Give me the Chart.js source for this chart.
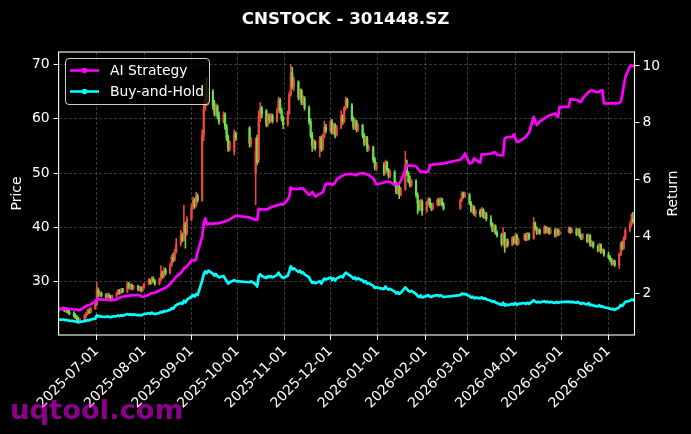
<!DOCTYPE html>
<html>
<head>
<meta charset="utf-8">
<script src="https://cdn.jsdelivr.net/npm/chart.js@4.4.1/dist/chart.umd.min.js"></script>
<style>
html,body{margin:0;padding:0;background:#000;}
#wrap{width:691px;height:434px;}
</style>
</head>
<body>
<div id="wrap"><canvas id="c" width="691" height="434"></canvas></div>
<script>
const chartTitle = "CNSTOCK - 301448.SZ";
const seriesNames = ["AI Strategy", "Buy-and-Hold"];
const watermark = "uqtool.com";

const dates = [
"2025-06-06","2025-06-09","2025-06-10","2025-06-11","2025-06-12","2025-06-13","2025-06-16","2025-06-17","2025-06-18","2025-06-19","2025-06-20","2025-06-23","2025-06-24","2025-06-25","2025-06-26","2025-06-27","2025-06-30",
"2025-07-01","2025-07-02","2025-07-03","2025-07-04","2025-07-07","2025-07-08","2025-07-09","2025-07-10","2025-07-11","2025-07-14","2025-07-15","2025-07-16","2025-07-17","2025-07-18","2025-07-21","2025-07-22","2025-07-23","2025-07-24","2025-07-25","2025-07-28","2025-07-29","2025-07-30","2025-07-31",
"2025-08-01","2025-08-04","2025-08-05","2025-08-06","2025-08-07","2025-08-08","2025-08-11","2025-08-12","2025-08-13","2025-08-14","2025-08-15","2025-08-18","2025-08-19","2025-08-20","2025-08-21","2025-08-22","2025-08-25","2025-08-26","2025-08-27","2025-08-28","2025-08-29",
"2025-09-01","2025-09-02","2025-09-03","2025-09-04","2025-09-05","2025-09-08","2025-09-09","2025-09-10","2025-09-11","2025-09-12","2025-09-15","2025-09-16","2025-09-17","2025-09-18","2025-09-19","2025-09-22","2025-09-23","2025-09-24","2025-09-25","2025-09-26","2025-09-29","2025-09-30",
"2025-10-09","2025-10-10","2025-10-13","2025-10-14","2025-10-15","2025-10-16","2025-10-17","2025-10-20","2025-10-21","2025-10-22","2025-10-23","2025-10-24","2025-10-27","2025-10-28","2025-10-29","2025-10-30","2025-10-31",
"2025-11-03","2025-11-04","2025-11-05","2025-11-06","2025-11-07","2025-11-10","2025-11-11","2025-11-12","2025-11-13","2025-11-14","2025-11-17","2025-11-18","2025-11-19","2025-11-20","2025-11-21","2025-11-24","2025-11-25","2025-11-26","2025-11-27","2025-11-28",
"2025-12-01","2025-12-02","2025-12-03","2025-12-04","2025-12-05","2025-12-08","2025-12-09","2025-12-10","2025-12-11","2025-12-12","2025-12-15","2025-12-16","2025-12-17","2025-12-18","2025-12-19","2025-12-22","2025-12-23","2025-12-24","2025-12-25","2025-12-26","2025-12-29","2025-12-30","2025-12-31",
"2026-01-05","2026-01-06","2026-01-07","2026-01-08","2026-01-09","2026-01-12","2026-01-13","2026-01-14","2026-01-15","2026-01-16","2026-01-19","2026-01-20","2026-01-21","2026-01-22","2026-01-23","2026-01-26","2026-01-27","2026-01-28","2026-01-29","2026-01-30",
"2026-02-02","2026-02-03","2026-02-04","2026-02-05","2026-02-06","2026-02-09","2026-02-10","2026-02-11","2026-02-12","2026-02-13","2026-02-24","2026-02-25","2026-02-26","2026-02-27",
"2026-03-02","2026-03-03","2026-03-04","2026-03-05","2026-03-06","2026-03-09","2026-03-10","2026-03-11","2026-03-12","2026-03-13","2026-03-16","2026-03-17","2026-03-18","2026-03-19","2026-03-20","2026-03-23","2026-03-24","2026-03-25","2026-03-26","2026-03-27","2026-03-30","2026-03-31",
"2026-04-01","2026-04-02","2026-04-03","2026-04-07","2026-04-08","2026-04-09","2026-04-10","2026-04-13","2026-04-14","2026-04-15","2026-04-16","2026-04-17","2026-04-20","2026-04-21","2026-04-22","2026-04-23","2026-04-24","2026-04-27","2026-04-28","2026-04-29","2026-04-30",
"2026-05-06","2026-05-07","2026-05-08","2026-05-11","2026-05-12","2026-05-13","2026-05-14","2026-05-15","2026-05-18","2026-05-19","2026-05-20","2026-05-21","2026-05-22","2026-05-25","2026-05-26","2026-05-27","2026-05-28","2026-05-29",
"2026-06-01","2026-06-02","2026-06-03","2026-06-04","2026-06-05","2026-06-08","2026-06-09","2026-06-10","2026-06-11","2026-06-12","2026-06-15","2026-06-16","2026-06-17","2026-06-18"
];

const open = [
25.0,24.8,25.1,24.7,24.9,24.4,24.1,23.7,23.4,23.0,22.8,23.0,23.7,24.2,24.6,24.4,25.1,
25.8,28.4,27.6,27.9,27.5,27.2,27.6,27.3,26.9,27.4,27.9,28.4,28.0,28.6,28.2,29.6,29.0,29.4,28.8,29.2,28.6,28.9,28.4,
29.0,29.6,30.3,29.8,30.6,30.1,29.6,30.4,31.5,31.0,32.2,31.6,33.0,34.5,34.0,35.5,37.0,38.5,37.8,40.5,39.0,
41.5,43.8,45.0,44.0,45.8,45.0,57.0,62.0,64.5,63.0,65.0,62.5,61.0,62.3,60.5,59.5,60.8,58.5,56.5,54.5,54.0,57.2,
58.3,55.5,50.0,56.5,52.5,60.5,62.0,61.5,59.0,60.5,59.8,60.6,59.6,61.5,63.5,61.5,60.0,
59.0,61.0,64.5,68.5,66.0,66.8,64.0,65.2,63.0,63.8,62.0,59.5,57.0,55.0,55.8,54.6,56.5,54.5,56.8,58.5,
57.8,59.5,57.5,58.8,57.0,58.5,60.5,59.5,62.0,63.5,62.5,60.0,58.5,59.5,58.0,58.8,57.0,55.5,56.5,54.5,54.8,52.5,51.0,
51.5,50.0,52.0,50.5,49.5,50.2,48.0,46.5,47.5,46.0,47.0,51.5,50.0,48.5,47.8,48.5,46.0,44.5,43.5,44.8,
43.0,44.5,45.2,44.0,43.5,44.2,45.0,44.3,45.2,44.2,43.5,45.0,46.3,45.8,
46.0,44.5,43.0,43.8,42.5,43.0,42.3,43.3,42.0,42.5,41.6,40.5,39.5,40.2,39.0,38.5,37.0,38.8,36.5,37.5,36.8,38.0,
37.2,38.5,37.0,37.8,38.6,37.8,38.8,38.0,40.8,39.8,39.0,39.5,39.0,40.0,39.2,39.8,39.0,39.5,38.5,39.5,38.8,
39.2,39.8,39.2,39.6,38.8,39.6,38.5,38.0,38.6,37.5,38.5,36.8,37.2,36.5,35.8,36.8,35.5,35.8,
35.0,34.5,34.0,33.4,33.8,33.0,35.0,37.0,36.2,38.0,39.5,40.5,41.5,41.0
];

const high = [
25.4,25.4,25.3,25.2,25.1,24.8,24.5,24.2,23.8,23.5,23.2,24.0,24.4,24.9,25.0,25.3,26.2,
30.0,28.9,28.3,28.1,27.8,27.9,27.8,27.5,27.6,28.1,28.6,28.6,28.8,28.8,30.0,29.9,29.6,29.6,29.4,29.4,29.2,29.1,29.2,
29.8,30.6,30.5,30.9,30.9,30.4,30.7,33.0,31.9,32.6,32.5,33.4,34.9,35.3,36.0,38.0,39.5,39.0,44.1,41.0,42.0,
44.3,45.6,45.4,46.5,46.2,58.0,63.0,66.5,67.6,65.7,65.4,63.4,62.8,62.6,61.3,61.3,61.1,59.0,57.0,55.9,58.0,57.6,
58.6,56.6,56.5,57.0,61.5,63.0,62.3,61.7,61.0,60.9,61.0,60.9,62.0,64.0,63.8,62.0,60.5,
61.4,64.9,70.0,69.5,67.6,67.0,65.6,65.5,64.3,64.1,62.4,60.0,57.5,56.2,56.0,56.8,56.9,57.2,59.6,59.0,
59.8,59.9,59.1,59.2,58.8,61.5,60.8,62.3,64.0,63.8,62.8,60.4,59.9,59.8,59.1,59.0,57.4,56.8,56.8,55.2,55.0,52.9,52.0,
52.0,52.4,52.2,50.9,50.6,50.5,48.4,47.9,47.8,47.4,54.0,52.4,50.3,49.5,48.9,48.8,46.4,45.0,45.2,45.1,
44.8,45.5,45.4,44.5,44.5,45.3,45.4,45.5,45.4,44.6,45.3,46.6,46.5,46.5,
46.3,44.8,44.1,44.0,43.3,43.4,43.7,43.5,42.9,42.8,42.2,40.9,40.6,40.5,39.4,38.9,40.0,39.1,37.8,37.9,38.3,38.3,
38.9,38.8,38.1,38.9,38.9,39.1,39.0,41.8,41.0,40.1,39.8,39.7,40.4,40.2,40.1,40.0,39.8,39.8,39.8,39.8,39.5,
40.1,40.0,39.9,39.8,39.9,39.8,38.8,38.9,38.8,38.8,38.7,37.6,37.4,36.8,37.1,37.0,36.1,36.0,
35.5,34.8,34.3,34.1,34.0,35.3,37.3,37.5,38.3,39.8,41.0,42.5,42.8,42.3
];

const low = [
24.5,24.6,24.5,24.3,24.2,23.9,23.5,23.2,22.8,22.6,22.5,22.8,23.4,23.9,24.1,24.2,24.9,
25.6,27.2,27.3,27.2,26.9,27.0,27.0,26.6,26.7,27.2,27.6,27.7,27.8,28.0,28.0,28.7,28.6,28.5,28.6,28.3,28.3,28.1,28.2,
28.8,29.4,29.5,29.6,29.9,29.3,29.4,30.2,30.6,30.8,31.2,31.4,32.8,33.6,33.8,35.2,36.6,37.4,37.5,36.2,38.6,
41.2,43.3,43.5,43.8,44.6,44.8,56.0,61.5,62.5,62.6,61.8,60.5,60.6,60.0,59.0,59.2,58.0,56.0,54.0,54.1,53.3,56.0,
54.8,54.9,44.2,51.5,52.0,59.5,60.2,58.5,58.6,59.2,59.4,59.2,59.4,61.2,61.0,59.6,58.2,
58.7,60.8,64.2,65.5,65.2,63.5,63.6,62.6,62.6,61.6,59.0,56.5,54.0,54.5,54.2,53.0,54.0,54.2,56.5,57.4,
57.5,57.2,57.2,56.5,56.8,58.2,59.0,59.3,61.6,62.0,59.6,58.0,58.2,57.6,57.7,56.5,55.0,55.2,54.0,54.1,52.0,50.6,50.4,
49.6,49.8,50.2,49.1,49.2,47.6,46.2,46.2,45.3,45.8,46.8,49.6,48.2,47.4,47.5,45.6,42.5,43.0,43.2,42.2,
42.8,44.1,43.7,43.1,43.2,43.9,44.0,44.1,43.9,43.2,43.3,44.8,45.4,45.5,
44.2,42.8,42.6,42.2,42.0,41.9,42.1,41.7,41.6,41.2,40.2,39.2,39.2,38.7,38.2,36.6,36.8,35.4,36.2,36.4,36.6,36.9,
37.0,36.7,36.8,37.6,37.5,37.6,37.7,37.8,39.5,38.7,38.8,38.7,38.8,38.9,39.0,38.7,38.8,38.2,38.3,38.5,38.6,
39.0,38.9,39.0,38.5,38.6,38.2,37.7,37.8,37.2,37.3,36.5,36.5,36.2,35.5,35.6,35.2,35.3,34.7,
34.2,33.7,33.0,33.2,32.8,32.4,34.8,35.8,36.0,37.7,39.2,40.2,40.8,40.8
];

const close = [
24.8,25.1,24.7,24.9,24.4,24.1,23.7,23.4,23.0,22.8,23.0,23.7,24.2,24.6,24.4,25.1,25.8,
28.6,27.6,27.9,27.5,27.2,27.6,27.3,26.9,27.4,27.9,28.4,28.0,28.6,28.2,29.6,29.0,29.4,28.8,29.2,28.6,28.9,28.4,29.0,
29.6,30.3,29.8,30.6,30.1,29.6,30.4,31.5,31.0,32.2,31.6,33.0,34.5,34.0,35.5,37.0,38.5,37.8,40.5,39.0,41.5,
43.8,45.0,44.0,45.8,45.0,57.0,62.0,64.5,63.0,65.0,62.5,61.0,62.3,60.5,59.5,60.8,58.5,56.5,54.5,55.5,57.2,56.5,
55.5,56.2,54.0,52.0,60.5,62.0,60.8,59.0,60.5,59.8,60.6,59.6,61.5,63.5,61.5,60.0,59.0,
61.0,64.5,68.5,66.0,67.0,64.0,65.2,63.0,63.8,62.0,59.5,57.0,55.0,55.8,54.6,56.5,54.5,56.8,58.5,57.8,
59.5,57.5,58.8,57.0,58.5,60.5,59.5,62.0,63.5,62.5,60.0,58.5,59.5,58.0,58.8,57.0,55.5,56.5,54.5,54.8,52.5,51.0,51.5,
50.0,52.0,50.5,49.5,50.2,48.0,46.5,47.5,46.0,47.0,51.5,50.0,48.5,47.8,48.5,46.0,44.5,43.5,44.8,43.0,
44.5,45.2,44.0,43.5,44.2,45.0,44.3,45.2,44.2,43.5,45.0,46.3,45.8,46.0,
44.5,43.0,43.8,42.5,43.0,42.3,43.3,42.0,42.5,41.6,40.5,39.5,40.2,39.0,38.5,37.0,38.8,36.5,37.5,36.8,38.0,37.2,
38.5,37.0,37.8,38.6,37.8,38.8,38.0,40.8,39.8,39.0,39.5,39.0,40.0,39.2,39.8,39.0,39.5,38.5,39.5,38.8,39.2,
39.8,39.2,39.6,38.8,39.6,38.5,38.0,38.6,37.5,38.5,36.8,37.2,36.5,35.8,36.8,35.5,35.8,35.0,
34.5,34.0,33.4,33.8,33.0,35.0,37.0,36.2,38.0,39.5,40.5,41.5,41.0,42.0
];

const aiReturn = [
1.45,1.46,1.45,1.47,1.46,1.45,1.44,1.43,1.42,1.41,1.41,1.52,1.55,1.58,1.58,1.61,1.72,
1.80,1.79,1.80,1.79,1.77,1.78,1.77,1.75,1.76,1.79,1.83,1.84,1.88,1.88,1.91,1.91,1.93,1.93,1.94,1.94,1.93,1.90,1.88,
1.89,1.95,1.99,2.00,2.01,2.02,2.10,2.13,2.15,2.17,2.19,2.33,2.40,2.45,2.52,2.58,2.72,2.78,2.88,2.90,2.95,
3.15,3.17,3.15,3.20,3.45,3.99,4.45,4.64,4.42,4.45,4.44,4.46,4.46,4.46,4.47,4.52,4.53,4.55,4.57,4.60,4.70,4.73,
4.67,4.65,4.58,4.58,4.98,4.95,4.95,4.95,4.96,5.00,5.03,5.05,5.10,5.11,5.12,5.15,5.12,
5.30,5.40,5.73,5.66,5.68,5.67,5.69,5.68,5.69,5.63,5.46,5.50,5.57,5.50,5.40,5.50,5.52,5.56,5.72,5.85,
5.86,5.81,5.85,5.90,6.00,6.12,6.14,6.17,6.19,6.19,6.20,6.18,6.16,6.16,6.20,6.23,6.22,6.20,6.18,6.16,6.04,5.95,5.83,
5.90,5.92,5.92,5.92,5.92,5.82,5.84,5.86,5.87,5.95,6.35,6.51,6.50,6.49,6.49,6.47,6.40,6.33,6.28,6.27,
6.27,6.28,6.51,6.52,6.53,6.55,6.55,6.56,6.56,6.57,6.70,6.76,6.80,6.92,
6.57,6.58,6.62,6.75,6.70,6.60,6.89,6.89,6.89,6.89,6.92,6.94,6.96,6.95,6.88,6.85,6.86,7.45,7.48,7.50,7.50,7.60,
7.45,7.33,7.33,7.47,7.52,7.60,7.65,8.21,8.05,7.92,7.98,8.05,8.15,8.18,8.22,8.25,8.27,8.33,8.25,8.21,8.56,
8.56,8.83,8.83,8.80,8.79,8.74,8.73,8.85,9.03,9.08,9.12,9.15,9.12,9.07,9.10,9.13,9.15,8.68,
8.68,8.68,8.68,8.68,8.68,8.69,8.75,8.97,9.30,9.61,9.98,10.02,10.00,10.01
];

const bhReturn = [
1.07,1.08,1.06,1.07,1.05,1.04,1.02,1.01,0.99,0.98,0.99,1.02,1.04,1.06,1.05,1.08,1.11,
1.23,1.19,1.20,1.18,1.17,1.19,1.17,1.16,1.18,1.20,1.22,1.20,1.23,1.21,1.27,1.25,1.26,1.24,1.26,1.23,1.24,1.22,1.25,
1.27,1.30,1.28,1.32,1.29,1.27,1.31,1.35,1.33,1.38,1.36,1.42,1.48,1.46,1.53,1.59,1.66,1.63,1.74,1.68,1.78,
1.88,1.94,1.89,1.97,1.94,2.45,2.67,2.77,2.71,2.80,2.69,2.62,2.68,2.60,2.56,2.61,2.52,2.43,2.34,2.39,2.46,2.43,
2.39,2.42,2.32,2.24,2.60,2.67,2.61,2.54,2.60,2.57,2.61,2.56,2.64,2.73,2.64,2.58,2.54,
2.62,2.77,2.95,2.84,2.88,2.75,2.80,2.71,2.74,2.67,2.56,2.45,2.37,2.40,2.35,2.43,2.34,2.44,2.52,2.49,
2.56,2.47,2.53,2.45,2.52,2.60,2.56,2.67,2.73,2.69,2.58,2.52,2.56,2.49,2.53,2.45,2.39,2.43,2.34,2.36,2.26,2.19,2.21,
2.15,2.24,2.17,2.13,2.16,2.06,2.00,2.04,1.98,2.02,2.21,2.15,2.09,2.06,2.09,1.98,1.91,1.87,1.93,1.85,
1.91,1.94,1.89,1.87,1.90,1.94,1.90,1.94,1.90,1.87,1.94,1.99,1.97,1.98,
1.91,1.85,1.88,1.83,1.85,1.82,1.86,1.81,1.83,1.79,1.74,1.70,1.73,1.68,1.66,1.59,1.67,1.57,1.61,1.58,1.63,1.60,
1.66,1.59,1.63,1.66,1.63,1.67,1.63,1.75,1.71,1.68,1.70,1.68,1.72,1.69,1.71,1.68,1.70,1.66,1.70,1.67,1.69,
1.71,1.69,1.70,1.67,1.70,1.66,1.63,1.66,1.61,1.66,1.58,1.60,1.57,1.54,1.58,1.53,1.54,1.51,
1.48,1.46,1.44,1.45,1.42,1.51,1.59,1.56,1.63,1.70,1.74,1.78,1.76,1.81
];

const priceTicks = [30, 40, 50, 60, 70];
const returnTicks = [2, 4, 6, 8, 10];
const monthTicks = ["2025-07-01","2025-08-01","2025-09-01","2025-10-01","2025-11-01","2025-12-01","2026-01-01","2026-02-01","2026-03-01","2026-04-01","2026-05-01","2026-06-01"];

// ---------- rendering ----------
const FONT = 'DejaVu Sans';
const DAY = 86400000;
const dayNum = s => Math.round(Date.parse(s + 'T00:00:00Z') / DAY);
const xs = dates.map(dayNum);
const UP = '#ee4b3c', DOWN = '#6fe04a';
const candleColors = close.map((c, i) => (c >= open[i] ? UP : DOWN));
const tickLabelByDay = {};
monthTicks.forEach(m => { tickLabelByDay[dayNum(m)] = m; });

const lineColors = ['#ff00ff', '#00ffff'];
Chart.defaults.font.family = FONT;

const bgPlugin = {
  id: 'bg',
  beforeDraw(chart) {
    const ctx = chart.ctx;
    ctx.save();
    ctx.fillStyle = '#000';
    ctx.fillRect(0, 0, chart.width, chart.height);
    ctx.restore();
  }
};

const decorPlugin = {
  id: 'decor',
  afterDraw(chart) {
    const ctx = chart.ctx, a = chart.chartArea;
    ctx.save();
    // frame
    ctx.strokeStyle = '#ffffff';
    ctx.lineWidth = 1.1;
    ctx.strokeRect(a.left, a.top, a.right - a.left, a.bottom - a.top);
    // title
    ctx.fillStyle = '#ffffff';
    ctx.font = 'bold 16.7px "' + FONT + '"';
    ctx.textAlign = 'center';
    ctx.textBaseline = 'alphabetic';
    ctx.fillText(chartTitle, chart.width / 2, 24);
    // right axis title
    ctx.save();
    ctx.translate(673, (a.top + a.bottom) / 2);
    ctx.rotate(-Math.PI / 2);
    ctx.font = '13.9px "' + FONT + '"';
    ctx.textAlign = 'center';
    ctx.textBaseline = 'middle';
    ctx.fillText('Return', 0, 0);
    ctx.restore();
    // legend
    const bx = 65.5, by = 58.5, bw = 144, bh = 46, r = 3.5;
    ctx.beginPath();
    ctx.moveTo(bx + r, by);
    ctx.lineTo(bx + bw - r, by);
    ctx.quadraticCurveTo(bx + bw, by, bx + bw, by + r);
    ctx.lineTo(bx + bw, by + bh - r);
    ctx.quadraticCurveTo(bx + bw, by + bh, bx + bw - r, by + bh);
    ctx.lineTo(bx + r, by + bh);
    ctx.quadraticCurveTo(bx, by + bh, bx, by + bh - r);
    ctx.lineTo(bx, by + r);
    ctx.quadraticCurveTo(bx, by, bx + r, by);
    ctx.closePath();
    ctx.fillStyle = 'rgba(0,0,0,0.8)';
    ctx.fill();
    ctx.strokeStyle = 'rgba(255,255,255,0.8)';
    ctx.lineWidth = 1;
    ctx.stroke();
    const rows = [70.5, 91.5];
    chart.data.datasets.filter(d => d.type === 'line').forEach((d, i) => {
      const y = rows[i];
      ctx.strokeStyle = d.borderColor;
      ctx.lineWidth = 2.6;
      ctx.beginPath();
      ctx.moveTo(70, y);
      ctx.lineTo(99, y);
      ctx.stroke();
      ctx.fillStyle = d.borderColor;
      ctx.beginPath();
      ctx.arc(84.5, y, 2.8, 0, Math.PI * 2);
      ctx.fill();
      ctx.fillStyle = '#ffffff';
      ctx.font = '13.9px "' + FONT + '"';
      ctx.textAlign = 'left';
      ctx.textBaseline = 'middle';
      ctx.fillText(d.label, 110, y + 0.5);
    });
    // watermark
    ctx.font = 'bold 27.4px "' + FONT + '"';
    ctx.fillStyle = 'rgba(255,0,255,0.55)';
    ctx.textAlign = 'left';
    ctx.textBaseline = 'alphabetic';
    ctx.fillText(watermark, 10, 419);
    ctx.restore();
  }
};

const gridCommon = {
  color: 'rgba(255,255,255,0.28)',
  lineWidth: 0.8,
  tickColor: '#ffffff',
  tickLength: 5,
  tickWidth: 1,
  tickBorderDash: []
};

new Chart(document.getElementById('c'), {
  type: 'bar',
  data: {
    datasets: [
      {
        type: 'line', label: seriesNames[0], yAxisID: 'y1',
        data: xs.map((x, i) => ({ x, y: aiReturn[i] })),
        borderColor: lineColors[0], backgroundColor: lineColors[0],
        borderWidth: 2.7, pointRadius: 0, tension: 0, borderJoinStyle: 'round', order: 0
      },
      {
        type: 'line', label: seriesNames[1], yAxisID: 'y1',
        data: xs.map((x, i) => ({ x, y: bhReturn[i] })),
        borderColor: lineColors[1], backgroundColor: lineColors[1],
        borderWidth: 2.7, pointRadius: 0, tension: 0, borderJoinStyle: 'round', order: 1
      },
      {
        type: 'bar', label: 'body', yAxisID: 'y', grouped: false,
        data: xs.map((x, i) => ({ x, y: [Math.min(open[i], close[i]), Math.max(open[i], close[i])] })),
        backgroundColor: candleColors, barThickness: 1.5, order: 2
      },
      {
        type: 'bar', label: 'wick', yAxisID: 'y', grouped: false,
        data: xs.map((x, i) => ({ x, y: [low[i], high[i]] })),
        backgroundColor: candleColors, barThickness: 0.9, order: 3
      }
    ]
  },
  options: {
    responsive: false,
    animation: false,
    devicePixelRatio: 1,
    layout: { padding: { top: 52, left: 0, right: 0, bottom: 0 } },
    plugins: { legend: { display: false }, tooltip: { enabled: false }, title: { display: false } },
    scales: {
      x: {
        type: 'linear',
        min: dayNum(dates[0]),
        max: dayNum(dates[dates.length - 1]),
        offset: false,
        afterBuildTicks: s => { s.ticks = monthTicks.map(m => ({ value: dayNum(m) })); },
        afterFit: s => { s.height = 99; },
        ticks: {
          autoSkip: false, minRotation: 45, maxRotation: 45, color: '#ffffff', padding: 3,
          font: { family: FONT, size: 13.9 },
          callback: v => tickLabelByDay[v] || ''
        },
        grid: Object.assign({ offset: false }, gridCommon),
        border: { display: false, dash: [3, 2] }
      },
      y: {
        type: 'linear', position: 'left', min: 20.19, max: 72.32,
        afterBuildTicks: s => { s.ticks = priceTicks.map(v => ({ value: v })); },
        afterFit: s => { s.width = 58.6; },
        ticks: { color: '#ffffff', padding: 4, font: { family: FONT, size: 13.9 } },
        grid: Object.assign({}, gridCommon),
        border: { display: false, dash: [3, 2] },
        title: {
          display: true, text: 'Price', color: '#ffffff',
          font: { family: FONT, size: 13.9, lineHeight: 1.2 },
          padding: { top: 8.7, bottom: 0 }
        }
      },
      y1: {
        type: 'linear', position: 'right', min: 0.534, max: 10.49,
        afterBuildTicks: s => { s.ticks = returnTicks.map(v => ({ value: v })); },
        afterFit: s => { s.width = 56.5; },
        ticks: { color: '#ffffff', padding: 3, font: { family: FONT, size: 13.9 } },
        grid: Object.assign({ drawOnChartArea: false }, gridCommon),
        border: { display: false }
      }
    }
  },
  plugins: [bgPlugin, decorPlugin]
});
</script>
</body>
</html>
